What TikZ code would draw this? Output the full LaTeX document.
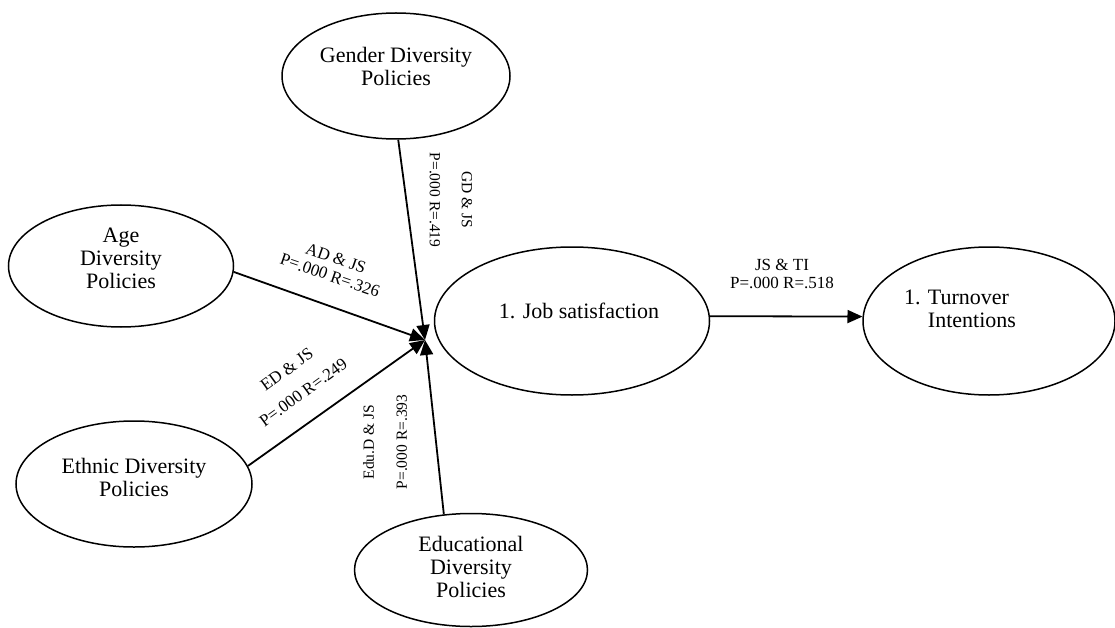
\documentclass[tikz,border=0pt]{standalone}
\usepackage{fontspec}
\setmainfont{Liberation Serif}
\usetikzlibrary{shapes.geometric,arrows.meta}
\begin{document}
\begin{tikzpicture}[x=1pt,y=-1pt,
  oval/.style={ellipse, draw, line width=1.5pt, inner sep=0pt},
  ntext/.style={align=center, font=\fontsize{22}{23}\selectfont, inner sep=0pt},
  elab/.style={align=center, font=\fontsize{17}{18}\selectfont, inner sep=0pt},
  conn/.style={line width=1.8pt, -{Triangle[length=15pt,width=13pt]}}]
\useasboundingbox (0,0) rectangle (1115,628);

% ellipses
\node[oval, minimum width=228pt, minimum height=126pt,
  label={[ntext, yshift=10pt]center:{Gender Diversity\\Policies}}] (gd) at (396,76) {};
\node[oval, minimum width=225pt, minimum height=122pt,
  label={[ntext, yshift=8pt]center:{Age\\Diversity\\Policies}}] (age) at (121,266) {};
\node[oval, minimum width=236pt, minimum height=126pt,
  label={[ntext, yshift=7pt]center:{Ethnic Diversity\\Policies}}] (eth) at (134,484) {};
\node[oval, minimum width=233pt, minimum height=113pt,
  label={[ntext, yshift=3pt]center:{Educational\\Diversity\\Policies}}] (edu) at (471,570) {};
\node[oval, minimum width=275pt, minimum height=148pt,
  label={[ntext, yshift=10pt, xshift=7pt]center:{1. Job satisfaction}}] (js) at (572,321) {};
\node[oval, minimum width=252pt, minimum height=148pt,
  label={[ntext, align=left, yshift=12pt, xshift=-29pt]center:{1. Turnover\\\hphantom{1. }Intentions}}] (ti) at (989,321) {};

% convergence point
\coordinate (c) at (425,340);

% connectors
\draw[conn] (gd.-88) -- (c);
\draw[conn] (age.-3) -- (c);
\draw[conn] (eth.9) -- (c);
\draw[conn] (edu.116) -- (c);
\draw[conn] (js.2) -- (ti.178);

% connector labels
\node[elab, rotate=-19] (lad) at (333,267) {AD \& JS\\P=.000 R=.326};
\node[elab, rotate=-90, font=\fontsize{15.5}{32}\selectfont] (lgd) at (451,200) {GD \& JS\\P=.000 R=.419};
\node[elab, rotate=36, font=\fontsize{17}{28}\selectfont] (led) at (295,381) {ED \& JS\\P=.000 R=.249};
\node[elab, rotate=90, font=\fontsize{15.5}{33}\selectfont] (ledu) at (385,442) {Edu.D \& JS\\P=.000 R=.393};
\node[elab] (lti) at (782,274) {JS \& TI\\P=.000 R=.518};
\end{tikzpicture}
\end{document}
